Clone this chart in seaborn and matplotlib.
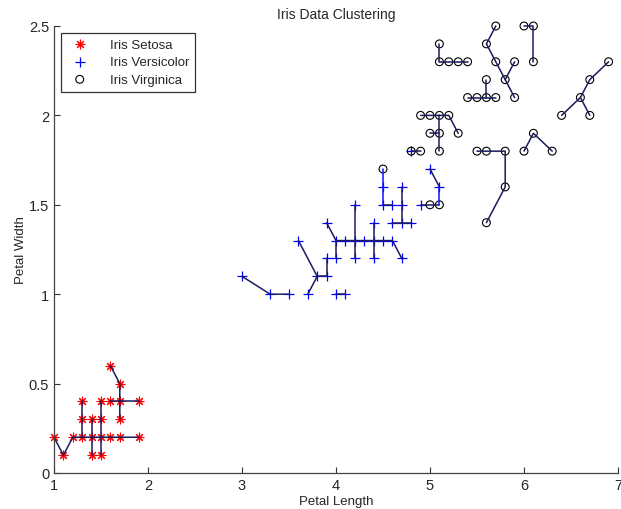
import numpy as np
import pandas as pd
import matplotlib
matplotlib.use('Agg')
import matplotlib.pyplot as plt
import seaborn as sns

# Petal length / width of the three species (unique points)
setosa_len = [1.0, 1.1, 1.2, 1.3, 1.3, 1.3, 1.4, 1.4, 1.4, 1.5, 1.5, 1.5, 1.5,
              1.6, 1.6, 1.6, 1.7, 1.7, 1.7, 1.7, 1.9, 1.9]
setosa_wid = [0.2, 0.1, 0.2, 0.2, 0.3, 0.4, 0.1, 0.2, 0.3, 0.1, 0.2, 0.3, 0.4,
              0.2, 0.4, 0.6, 0.2, 0.3, 0.4, 0.5, 0.2, 0.4]

versicolor_len = [3.0, 3.3, 3.5, 3.6, 3.7, 3.8, 3.9, 3.9, 3.9, 4.0, 4.0, 4.0,
                  4.1, 4.1, 4.2, 4.2, 4.2, 4.3, 4.4, 4.4, 4.4, 4.5, 4.5, 4.5,
                  4.6, 4.6, 4.6, 4.7, 4.7, 4.7, 4.7, 4.8, 4.8, 4.9, 5.0, 5.1]
versicolor_wid = [1.1, 1.0, 1.0, 1.3, 1.0, 1.1, 1.1, 1.2, 1.4, 1.0, 1.2, 1.3,
                  1.0, 1.3, 1.2, 1.3, 1.5, 1.3, 1.2, 1.3, 1.4, 1.3, 1.5, 1.6,
                  1.3, 1.4, 1.5, 1.2, 1.4, 1.5, 1.6, 1.4, 1.8, 1.5, 1.7, 1.6]

virginica_len = [4.5, 4.8, 4.9, 4.9, 5.0, 5.0, 5.0, 5.1, 5.1, 5.1, 5.1, 5.1,
                 5.1, 5.2, 5.2, 5.3, 5.3, 5.4, 5.4, 5.5, 5.5, 5.6, 5.6, 5.6,
                 5.6, 5.6, 5.7, 5.7, 5.7, 5.8, 5.8, 5.8, 5.9, 5.9, 6.0, 6.0,
                 6.1, 6.1, 6.1, 6.3, 6.4, 6.6, 6.7, 6.7, 6.9]
virginica_wid = [1.7, 1.8, 1.8, 2.0, 1.5, 1.9, 2.0, 1.5, 1.8, 1.9, 2.0, 2.3,
                 2.4, 2.0, 2.3, 1.9, 2.3, 2.1, 2.3, 1.8, 2.1, 1.4, 1.8, 2.1,
                 2.2, 2.4, 2.1, 2.3, 2.5, 1.6, 1.8, 2.2, 2.1, 2.3, 1.8, 2.5,
                 1.9, 2.3, 2.5, 1.8, 2.0, 2.1, 2.0, 2.2, 2.3]

# Cluster links (chains of (length, width) points joined by a line)
links_dark = [
    [(1.6, 0.6), (1.7, 0.5), (1.7, 0.4), (1.7, 0.3)],
    [(1.6, 0.4), (1.7, 0.4), (1.9, 0.4)],
    [(1.5, 0.4), (1.5, 0.3), (1.5, 0.2), (1.5, 0.1)],
    [(1.3, 0.4), (1.3, 0.3), (1.3, 0.2)],
    [(1.4, 0.3), (1.4, 0.2), (1.4, 0.1)],
    [(1.0, 0.2), (1.1, 0.1), (1.2, 0.2), (1.3, 0.2), (1.4, 0.2), (1.5, 0.2),
     (1.6, 0.2), (1.7, 0.2), (1.9, 0.2)],
    [(3.0, 1.1), (3.3, 1.0), (3.5, 1.0)],
    [(3.7, 1.0), (3.8, 1.1), (3.6, 1.3)],
    [(3.8, 1.1), (3.9, 1.1), (3.9, 1.2)],
    [(4.0, 1.0), (4.1, 1.0)],
    [(3.9, 1.4), (4.0, 1.3), (4.1, 1.3), (4.2, 1.3), (4.3, 1.3), (4.4, 1.3),
     (4.5, 1.3), (4.6, 1.3), (4.7, 1.2)],
    [(4.0, 1.3), (4.0, 1.2)],
    [(4.2, 1.5), (4.2, 1.3), (4.2, 1.2)],
    [(4.4, 1.4), (4.4, 1.3), (4.4, 1.2)],
    [(4.5, 1.5), (4.6, 1.5)],
    [(4.7, 1.6), (4.7, 1.5), (4.7, 1.4)],
    [(4.6, 1.4), (4.7, 1.4), (4.8, 1.4)],
    [(5.0, 1.7), (5.1, 1.6)],
    [(4.9, 1.5), (5.0, 1.5), (5.1, 1.5)],
    [(4.8, 1.8), (4.9, 1.8)],
    [(5.7, 2.5), (5.6, 2.4), (5.7, 2.3), (5.8, 2.2), (5.9, 2.1)],
    [(5.9, 2.3), (5.8, 2.2)],
    [(6.0, 2.5), (6.1, 2.5), (6.1, 2.3)],
    [(5.1, 2.4), (5.1, 2.3), (5.2, 2.3), (5.3, 2.3), (5.4, 2.3)],
    [(5.6, 2.2), (5.6, 2.1)],
    [(5.4, 2.1), (5.5, 2.1), (5.6, 2.1), (5.7, 2.1)],
    [(6.9, 2.3), (6.7, 2.2), (6.6, 2.1), (6.4, 2.0)],
    [(6.6, 2.1), (6.7, 2.0)],
    [(4.9, 2.0), (5.0, 2.0), (5.1, 2.0), (5.2, 2.0), (5.3, 1.9)],
    [(5.1, 2.0), (5.1, 1.9), (5.1, 1.8)],
    [(5.0, 1.9), (5.1, 1.9)],
    [(5.5, 1.8), (5.6, 1.8), (5.8, 1.8), (5.8, 1.6), (5.6, 1.4)],
    [(6.0, 1.8), (6.1, 1.9), (6.3, 1.8)],
]
links_blue = [
    [(4.5, 1.7), (4.5, 1.6), (4.5, 1.5)],
    [(5.1, 1.6), (5.1, 1.5)],
]


def links_frame(chains):
    rows = []
    for k, chain in enumerate(chains):
        for px, py in chain:
            rows.append({'x': px, 'y': py, 'chain': k})
    return pd.DataFrame(rows)


sns.set_style('ticks')
plt.rcParams['font.family'] = ['Liberation Sans', 'DejaVu Sans']
plt.rcParams['xtick.direction'] = 'in'
plt.rcParams['ytick.direction'] = 'in'

fig = plt.figure(figsize=(6.21, 5.10), dpi=100)
ax = fig.add_axes([54 / 621, 36 / 510, 564 / 621, 447 / 510])

sns.scatterplot(x=setosa_len, y=setosa_wid, marker=(8, 2, 0), s=40,
                color='red', edgecolor='red', linewidth=0.8,
                label='Iris Setosa', clip_on=False, ax=ax)
sns.scatterplot(x=versicolor_len, y=versicolor_wid, marker='+', s=45,
                color='blue', edgecolor='blue', linewidth=0.9,
                label='Iris Versicolor', clip_on=False, ax=ax)
sns.scatterplot(x=virginica_len, y=virginica_wid, marker='o', s=32,
                color='black', facecolor='none', edgecolor='black',
                linewidth=0.8, label='Iris Virginica', clip_on=False, ax=ax)

sns.lineplot(data=links_frame(links_dark), x='x', y='y', units='chain',
             estimator=None, sort=False, color='#1b1b5e', lw=1.1,
             legend=False, clip_on=False, ax=ax)
sns.lineplot(data=links_frame(links_blue), x='x', y='y', units='chain',
             estimator=None, sort=False, color='#1010ff', lw=1.1,
             legend=False, clip_on=False, ax=ax)

ax.set_xlim(1, 7)
ax.set_ylim(0, 2.5)
ax.set_xticks(np.arange(1, 8, 1))
ax.set_yticks(np.arange(0, 2.51, 0.5))
ax.set_xticklabels(['1', '2', '3', '4', '5', '6', '7'])
ax.set_yticklabels(['0', '0.5', '1', '1.5', '2', '2.5'])
ax.tick_params(labelsize=10.5, length=4, width=0.8, color='#333333')
for side in ['top', 'right']:
    ax.spines[side].set_visible(False)
for side in ['left', 'bottom']:
    ax.spines[side].set_color('#444444')
    ax.spines[side].set_linewidth(0.9)

ax.set_title('Iris Data Clustering', fontsize=10, pad=6)
ax.set_xlabel('Petal Length', fontsize=9.5, labelpad=2)
ax.set_ylabel('Petal Width', fontsize=9.5, labelpad=1)

leg = ax.legend(loc='upper left', fontsize=9.5, frameon=True, fancybox=False,
                edgecolor='black', borderaxespad=0.5, handletextpad=1.3,
                labelspacing=0.4, borderpad=0.45)
leg.get_frame().set_linewidth(0.9)

fig.savefig('out.png', dpi=100, facecolor='white')
